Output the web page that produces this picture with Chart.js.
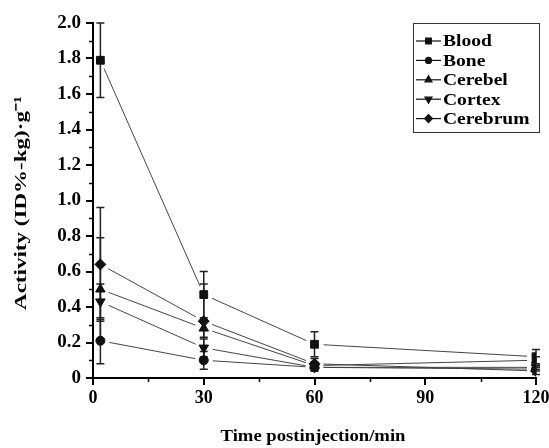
<!DOCTYPE html>
<html>
<head>
<meta charset="utf-8">
<script src="https://cdn.jsdelivr.net/npm/chart.js@4.4.0/dist/chart.umd.min.js"></script>
<style>
  html, body { margin: 0; padding: 0; background: #fff; }
  #wrap { width: 549px; height: 448px; position: relative; }
</style>
</head>
<body>
<div id="wrap"><canvas id="myChart"></canvas></div>
<script>
// time points (min)
const times = [2, 30, 60, 120];

// series values, ID%-kg/g
const blood    = [1.79, 0.47, 0.19, 0.12];
const bone     = [0.21, 0.10, 0.06, 0.05];
const cerebel  = [0.50, 0.28, 0.07, 0.10];
const cortex   = [0.43, 0.17, 0.06, 0.06];
const cerebrum = [0.64, 0.32, 0.08, 0.04];

// error bars (+/-)
const bloodErr    = [0.21, 0.13, 0.07, 0.04];
const boneErr     = [0.13, 0.05, 0.02, 0.01];
const cerebelErr  = [0.29, 0.05, 0.02, 0.02];
const cortexErr   = [0.10, 0.05, 0.02, 0.01];
const cerebrumErr = [0.32, 0.21, 0.03, 0.02];

const xTicks = [0, 30, 60, 90, 120];
const yTicks = [0, 0.2, 0.4, 0.6, 0.8, 1.0, 1.2, 1.4, 1.6, 1.8, 2.0];

const names = ['Blood', 'Bone', 'Cerebel', 'Cortex', 'Cerebrum'];
const markers = ['rect', 'circle', 'triangle', 'triangle', 'rectRot'];
const rotations = [0, 0, 0, 180, 0];
const values = [blood, bone, cerebel, cortex, cerebrum];
const errors = [bloodErr, boneErr, cerebelErr, cortexErr, cerebrumErr];

const xTitle = 'Time postinjection/min';
const yTitle = 'Activity (ID%-kg)·g⁻¹';

const serif = '"Liberation Serif", "Times New Roman", serif';

const datasets = names.map((n, i) => ({
    label: n,
    data: times.map((t, j) => ({ x: t, y: values[i][j] })),
    err: errors[i],
    showLine: false,
    pointStyle: markers[i],
    rotation: rotations[i],
    pointRadius: markers[i] === 'circle' ? 4.5 : 5.5,
    backgroundColor: '#111',
    borderColor: '#111',
    borderWidth: 1
}));

// text stretched along its direction, like the scanned figure
function stretchText(ctx, text, x, y, sx, align) {
    ctx.save();
    ctx.translate(x, y);
    ctx.scale(sx, 1);
    ctx.textAlign = align;
    ctx.fillText(text, 0, 0);
    ctx.restore();
}

// lines between points (with a small gap at markers), error bars, minor ticks, legend, titles
const extras = {
    id: 'extras',
    beforeDatasetsDraw(chart) {
        const ctx = chart.ctx;
        const xs = chart.scales.x, ys = chart.scales.y;
        ctx.save();
        chart.data.datasets.forEach(ds => {
            ctx.strokeStyle = '#444';
            ctx.lineWidth = 1;
            for (let j = 0; j < ds.data.length - 1; j++) {
                const x1 = xs.getPixelForValue(ds.data[j].x), y1 = ys.getPixelForValue(ds.data[j].y);
                const x2 = xs.getPixelForValue(ds.data[j + 1].x), y2 = ys.getPixelForValue(ds.data[j + 1].y);
                const len = Math.hypot(x2 - x1, y2 - y1);
                const g = 9;
                const ux = (x2 - x1) / len, uy = (y2 - y1) / len;
                ctx.beginPath();
                ctx.moveTo(x1 + ux * g, y1 + uy * g);
                ctx.lineTo(x2 - ux * g, y2 - uy * g);
                ctx.stroke();
            }
            ctx.strokeStyle = '#222';
            ctx.lineWidth = 1.5;
            ds.data.forEach((p, j) => {
                const e = ds.err[j];
                const x = xs.getPixelForValue(p.x);
                const yt = ys.getPixelForValue(p.y + e), yb = ys.getPixelForValue(Math.max(0, p.y - e));
                ctx.beginPath();
                ctx.moveTo(x, yt); ctx.lineTo(x, yb);
                ctx.moveTo(x - 4, yt); ctx.lineTo(x + 4, yt);
                ctx.moveTo(x - 4, yb); ctx.lineTo(x + 4, yb);
                ctx.stroke();
            });
        });
        ctx.restore();
    },
    afterDraw(chart) {
        const ctx = chart.ctx;
        const xs = chart.scales.x, ys = chart.scales.y;
        const area = chart.chartArea;
        ctx.save();
        ctx.strokeStyle = '#000';
        ctx.lineWidth = 1.5;
        // minor ticks
        for (let v = 0.1; v < 2.0; v += 0.2) {
            const y = Math.round(ys.getPixelForValue(v)) + 0.5;
            ctx.beginPath(); ctx.moveTo(area.left - 4, y); ctx.lineTo(area.left, y); ctx.stroke();
        }
        for (let v = 15; v < 120; v += 30) {
            const x = Math.round(xs.getPixelForValue(v)) + 0.5;
            ctx.beginPath(); ctx.moveTo(x, area.bottom); ctx.lineTo(x, area.bottom + 4); ctx.stroke();
        }
        // legend
        const bx = 413, by = 23, bw = 126, bh = 109;
        ctx.lineWidth = 1;
        ctx.strokeStyle = '#333';
        ctx.fillStyle = '#fff';
        ctx.fillRect(bx, by, bw, bh);
        ctx.strokeRect(bx + 0.5, by + 0.5, bw, bh);
        chart.data.datasets.forEach((ds, i) => {
            const y = 41 + i * 19.4;
            ctx.strokeStyle = '#111';
            ctx.lineWidth = 1.2;
            ctx.beginPath(); ctx.moveTo(416, y); ctx.lineTo(441, y); ctx.stroke();
            ctx.fillStyle = '#111';
            Chart.helpers.drawPoint(ctx, {
                pointStyle: ds.pointStyle, rotation: ds.rotation,
                radius: ds.pointStyle === 'circle' ? 3 : 4, borderWidth: 1
            }, 428.5, y);
            ctx.fillStyle = '#000';
            ctx.font = 'bold 17px ' + serif;
            ctx.textBaseline = 'middle';
            stretchText(ctx, ds.label, 443, y + 1, 1.15, 'left');
        });
        // axis titles, stretched to the reference lengths
        ctx.fillStyle = '#000';
        ctx.textBaseline = 'middle';
        ctx.font = 'bold 16px ' + serif;
        let w = ctx.measureText(xTitle).width;
        stretchText(ctx, xTitle, 313, 437, 185 / w, 'center');
        ctx.translate(22, 203);
        ctx.rotate(-Math.PI / 2);
        ctx.font = 'bold 17px ' + serif;
        w = ctx.measureText(yTitle).width;
        stretchText(ctx, yTitle, 0, 0, 214 / w, 'center');
        ctx.restore();
    }
};

const ctx = document.getElementById('myChart').getContext('2d');
const myChart = new Chart(ctx, {
    type: 'scatter',
    data: { datasets: datasets },
    options: {
        responsive: true,
        maintainAspectRatio: false,
        animation: false,
        layout: { padding: { top: 23, right: 13, left: 0, bottom: 0 } },
        plugins: { legend: { display: false }, tooltip: { enabled: false } },
        scales: {
            x: {
                type: 'linear',
                min: 0, max: 120,
                afterBuildTicks: s => { s.ticks = xTicks.map(v => ({ value: v })); },
                afterFit: s => { s.height = 70; s.paddingLeft = 0; s.paddingRight = 0; },
                grid: { drawOnChartArea: false, tickLength: 7, color: '#000', lineWidth: 2 },
                border: { color: '#000', width: 2 },
                ticks: { color: '#000', padding: 3, font: { family: serif, size: 18, weight: 'bold' } }
            },
            y: {
                min: 0, max: 2.0,
                afterBuildTicks: s => { s.ticks = yTicks.map(v => ({ value: v })); },
                afterFit: s => { s.width = 93; s.paddingTop = 0; s.paddingBottom = 0; },
                grid: { drawOnChartArea: false, tickLength: 7, color: '#000', lineWidth: 2 },
                border: { color: '#000', width: 2 },
                ticks: { color: '#000', padding: 5, font: { family: serif, size: 19, weight: 'bold' },
                         callback: v => v === 0 ? '0' : v.toFixed(1) }
            }
        }
    },
    plugins: [extras]
});
</script>
</body>
</html>
